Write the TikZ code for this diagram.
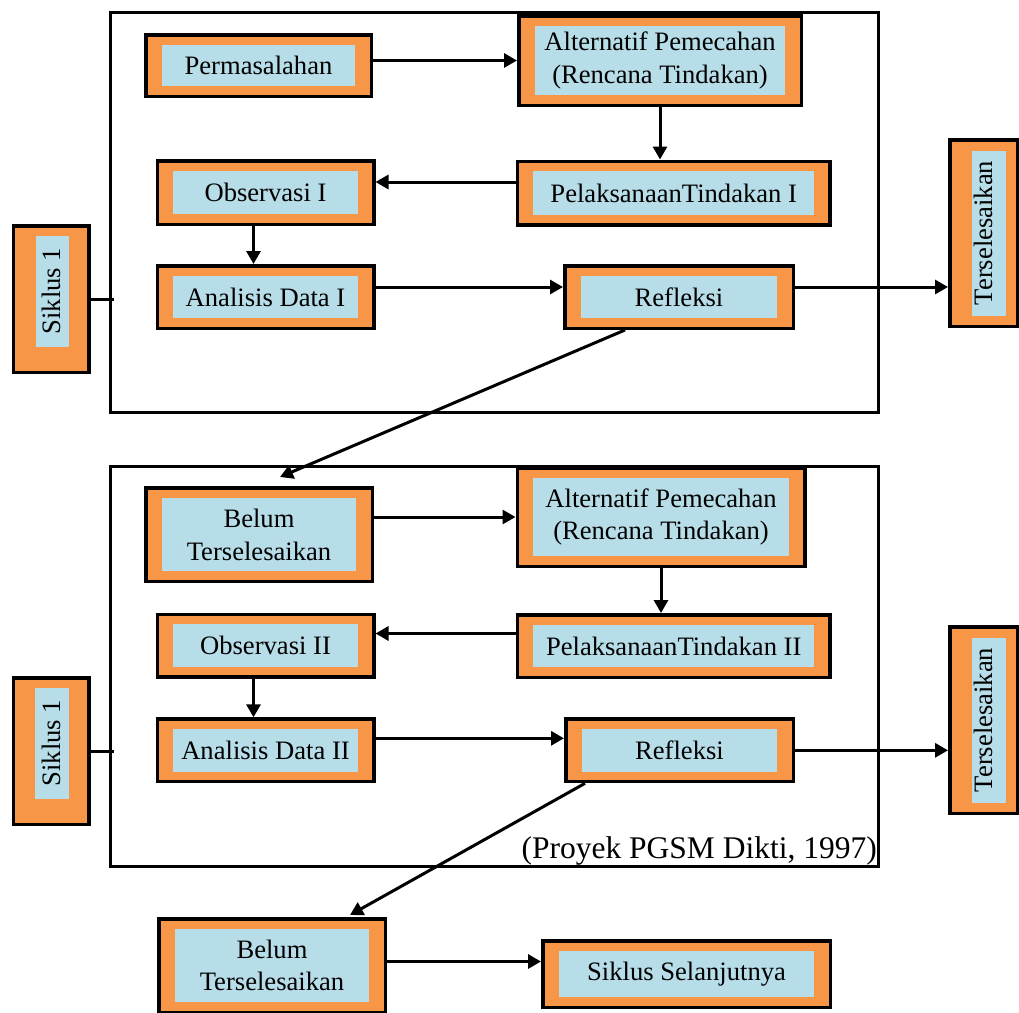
\documentclass[tikz,border=0pt]{standalone}
\usepackage{fontspec}
\setmainfont{Liberation Serif}
\usepackage{graphicx}
\usetikzlibrary{arrows.meta}
\definecolor{boxorange}{HTML}{F79646}
\definecolor{boxblue}{HTML}{B7DDE8}
\pgfkeys{/tikz/.cd, ml/.initial=16pt, mr/.initial=16pt, mt/.initial=10pt, mb/.initial=10pt}
\tikzset{
  box/.style={draw=black, line width=3.5pt, fill=boxorange, inner sep=0pt, align=center,
    font=\fontsize{26.6}{32.7}\selectfont,
    path picture={\fill[boxblue]
      ([xshift=\pgfkeysvalueof{/tikz/ml}, yshift=\pgfkeysvalueof{/tikz/mb}]path picture bounding box.south west)
      rectangle
      ([xshift=-\pgfkeysvalueof{/tikz/mr}, yshift=-\pgfkeysvalueof{/tikz/mt}]path picture bounding box.north east);}},
  sikbox/.style={box, ml=22pt, mr=19.6pt, mt=10pt, mb=25pt},
  terbox/.style={box, ml=22pt, mr=11pt, mt=11.6pt, mb=10pt},
  frame/.style={draw=black, line width=3pt},
  conn/.style={draw=black, line width=3pt},
  arr/.style={conn, -{Triangle[length=13pt,width=14pt]}}
}
\begin{document}
\begin{tikzpicture}[x=1pt, y=-1pt]
\useasboundingbox (0,0) rectangle (1019,1012);
\clip (0,0) rectangle (1019,1012);
% frames
\draw[frame] (110,12) rectangle (878,412);
\draw[frame] (110,466) rectangle (878,866);
% cycle 1
\node[box, minimum width=225.5pt, minimum height=61.5pt] (perm) at (258.5,65.5) {Permasalahan};
\node[box, minimum width=282.5pt, minimum height=89.5pt] (alt1) at (660,60.5) {Alternatif Pemecahan\\(Rencana Tindakan)};
\node[box, minimum width=216.5pt, minimum height=63.5pt] (obs1) at (265.5,192.7) {Observasi I};
\node[box, minimum width=312.5pt, minimum height=63.5pt] (pel1) at (673.7,193) {PelaksanaanTindakan I};
\node[box, minimum width=216.5pt, minimum height=62.5pt] (ana1) at (265.5,297) {Analisis Data I};
\node[box, minimum width=228.5pt, minimum height=62.5pt] (ref1) at (679,297) {Refleksi};
\node[sikbox, minimum width=75.5pt, minimum height=146.5pt] (sik1) at (51.3,299) {\rotatebox{90}{\hspace{16pt}Siklus 1}};
\node[terbox, minimum width=67.5pt, minimum height=186.5pt] (ter1) at (983.5,233) {\rotatebox{90}{Terselesaikan}};
% cycle 2
\node[box, minimum width=226.5pt, minimum height=93.5pt] (bel1) at (259,534.7) {Belum\\Terselesaikan};
\node[box, minimum width=287.5pt, minimum height=98.5pt] (alt2) at (661,517) {Alternatif Pemecahan\\(Rencana Tindakan)};
\node[box, minimum width=216.5pt, minimum height=62.5pt] (obs2) at (265.5,645.5) {Observasi II};
\node[box, minimum width=312.5pt, minimum height=62.5pt] (pel2) at (673.7,646) {PelaksanaanTindakan II};
\node[box, minimum width=216.5pt, minimum height=62.5pt] (ana2) at (265.5,750.3) {Analisis Data II};
\node[box, minimum width=227.5pt, minimum height=62.5pt] (ref2) at (679.5,750.3) {Refleksi};
\node[sikbox, minimum width=75.5pt, minimum height=146.5pt] (sik2) at (51,751) {\rotatebox{90}{\hspace{16pt}Siklus 1}};
\node[terbox, minimum width=67.5pt, minimum height=186.5pt] (ter2) at (983.5,720) {\rotatebox{90}{Terselesaikan}};
% bottom
\node[box, minimum width=226.5pt, minimum height=93.5pt] (bel2) at (272,965.5) {Belum\\Terselesaikan};
\node[box, minimum width=287.5pt, minimum height=66.5pt] (sel) at (686.5,974) {Siklus Selanjutnya};
\node[font=\fontsize{31.5}{36}\selectfont, inner sep=0pt, anchor=base east] (src) at (877,858) {(Proyek PGSM Dikti, 1997)};
% free ends
\coordinate (t1) at (280,477);
\coordinate (t2) at (350,915);
% connectors cycle 1
\draw[arr] (perm.east |- alt1.west) -- (alt1.west);
\draw[arr] (alt1.south) -- (alt1.south |- pel1.north);
\draw[arr] ([yshift=11pt]pel1.west) -- ([yshift=11pt]pel1.west -| obs1.east);
\draw[arr] ([xshift=-12pt]obs1.south) -- ([xshift=-12pt]obs1.south |- ana1.north);
\draw[arr] ([yshift=10pt]ana1.east) -- ([yshift=10pt]ana1.east -| ref1.west);
\draw[arr] ([yshift=10pt]ref1.east) -- ([yshift=10pt]ref1.east -| ter1.west);
\draw[arr] ([xshift=-54pt]ref1.south) -- (t1);
\draw[conn] (sik1.east) -- ++(23,0);
% connectors cycle 2
\draw[arr] (bel1.east |- alt2.west) -- (alt2.west);
\draw[arr] (alt2.south) -- (alt2.south |- pel2.north);
\draw[arr] ([yshift=12.5pt]pel2.west) -- ([yshift=12.5pt]pel2.west -| obs2.east);
\draw[arr] ([xshift=-12pt]obs2.south) -- ([xshift=-12pt]obs2.south |- ana2.north);
\draw[arr] ([yshift=12pt]ana2.east) -- ([yshift=12pt]ana2.east -| ref2.west);
\draw[arr] (ref2.east) -- (ref2.east -| ter2.west);
\draw[arr] ([xshift=-94.5pt]ref2.south) -- (t2);
\draw[conn] (sik2.east) -- ++(23,0);
\draw[arr] ([yshift=4pt]bel2.east) -- ([yshift=4pt]bel2.east -| sel.west);
\end{tikzpicture}
\end{document}
